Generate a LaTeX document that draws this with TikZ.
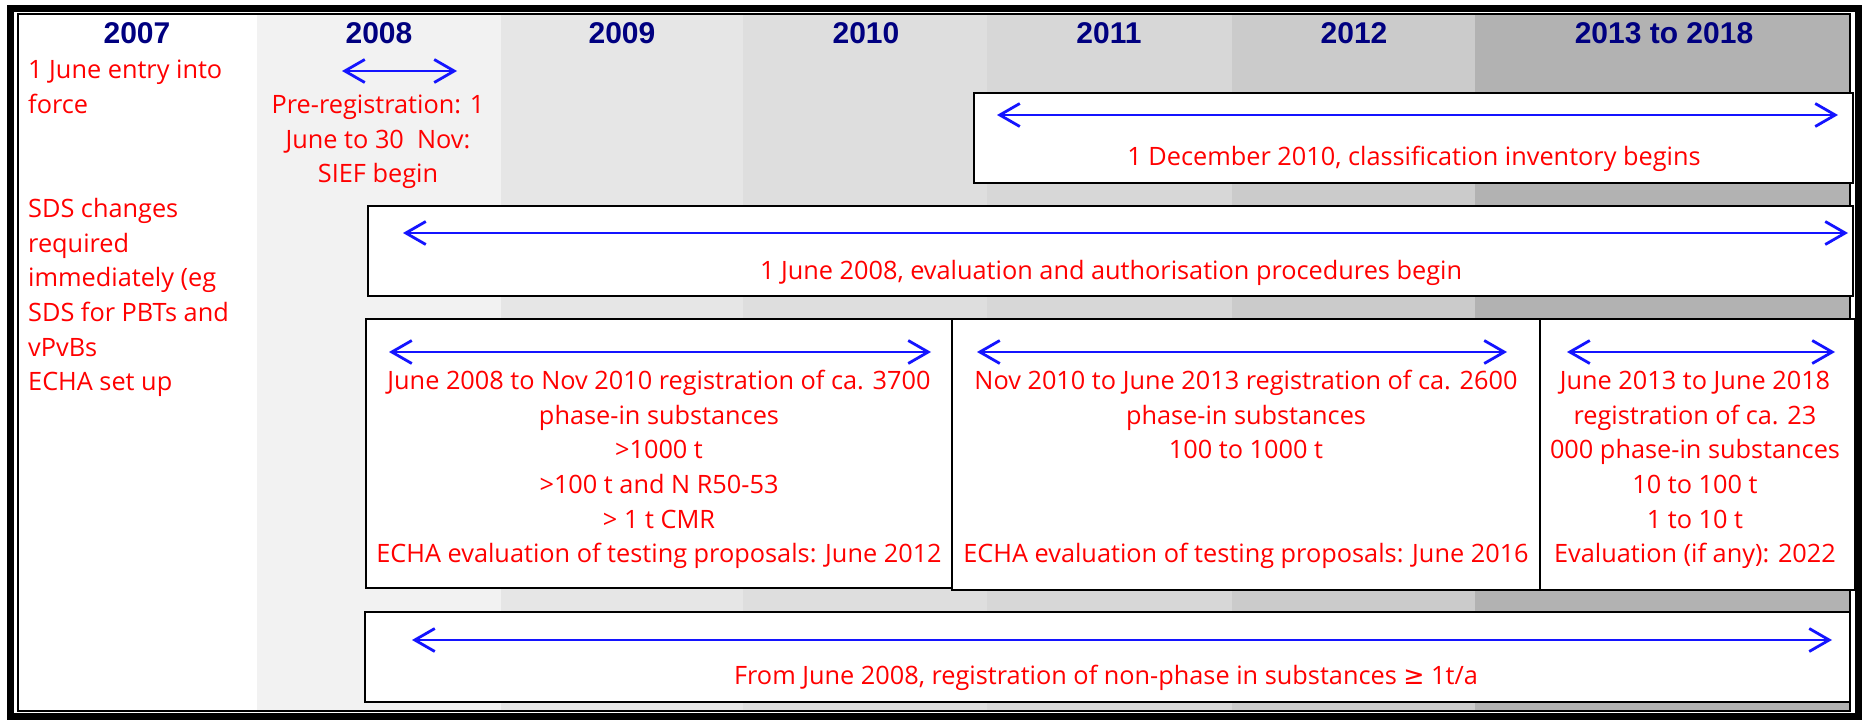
\documentclass[tikz,border=0pt]{standalone}
\usepackage{fontspec}
\setmainfont{Liberation Sans}
\newfontfamily\redfamily{Open Sans}
\newfontfamily\symfamily{DejaVu Sans}
\usetikzlibrary{arrows.meta}
\definecolor{navyhead}{RGB}{0,0,128}
\definecolor{arrowblue}{RGB}{20,20,255}
\definecolor{txtred}{RGB}{255,0,0}
\definecolor{bandA}{RGB}{255,255,255}
\definecolor{bandB}{RGB}{242,242,242}
\definecolor{bandC}{RGB}{230,230,230}
\definecolor{bandD}{RGB}{222,222,222}
\definecolor{bandE}{RGB}{215,215,215}
\definecolor{bandF}{RGB}{203,203,203}
\definecolor{bandG}{RGB}{178,178,178}
\begin{document}
\begin{tikzpicture}[x=1pt,y=-1pt,
  yearlbl/.style={font=\fontsize{30}{36}\selectfont\bfseries, text=navyhead, inner sep=0pt, anchor=center},
  redtxt/.style={font=\redfamily\fontsize{25.3}{34.7}\selectfont, text=txtred, inner sep=0pt, align=center, anchor=north},
  redleft/.style={redtxt, align=left, anchor=north west},
  eventbox/.style={draw=black, line width=2.5pt, fill=white, inner sep=0pt},
  span/.style={draw=arrowblue, line width=2.8pt, {Straight Barb[length=20pt,width=23pt]}-{Straight Barb[length=20pt,width=23pt]}},
]
\useasboundingbox (0,0) rectangle (1872,720);
\fill[white] (0,0) rectangle (1872,720);
% year bands
\fill[bandA] (18,14) rectangle (257,711);
\fill[bandB] (257,14) rectangle (501,711);
\fill[bandC] (501,14) rectangle (743,711);
\fill[bandD] (743,14) rectangle (987,711);
\fill[bandE] (987,14) rectangle (1232,711);
\fill[bandF] (1232,14) rectangle (1475,711);
\fill[bandG] (1475,14) rectangle (1850,711);
\draw[line width=1.5pt] (18,14) rectangle (1850,711);
% year labels
\node[yearlbl] (y2007) at (137,33) {2007};
\node[yearlbl] (y2008) at (379,33) {2008};
\node[yearlbl] (y2009) at (622,33) {2009};
\node[yearlbl] (y2010) at (866,33) {2010};
\node[yearlbl] (y2011) at (1109,33) {2011};
\node[yearlbl] (y2012) at (1354,33) {2012};
\node[yearlbl] (y2013) at (1664,33) {2013 to 2018};
% left column texts
\node[redleft] (entry) at (28,54) {\strut 1 June entry into\\force};
\node[redleft] (sds) at (28,193) {\strut SDS changes\\required\\immediately (eg\\SDS for PBTs and\\vPvBs\\ECHA set up};
% pre-registration
\coordinate (preL) at (342,71);
\coordinate (preR) at (457,71);
\draw[span] (preL) -- (preR);
\node[redtxt] (prereg) at (378,89) {\strut Pre-registration: 1\\June to 30\ \ Nov:\\SIEF begin};
% boxes
\node[eventbox, minimum width=879pt, minimum height=90pt] (boxA) at (1413.5,138) {};
\node[eventbox, minimum width=1485pt, minimum height=90pt] (boxB) at (1110.5,251) {};
\node[eventbox, minimum width=586pt, minimum height=269pt] (boxC1) at (659,453.5) {};
\node[eventbox, minimum width=588pt, minimum height=271pt] (boxC2) at (1246,454.5) {};
\node[eventbox, minimum width=315pt, minimum height=271pt] (boxC3) at (1697.5,454.5) {};
\node[eventbox, minimum width=1485pt, minimum height=90pt] (boxD) at (1107.5,657) {};
% spans
\coordinate (aL) at (997,115);   \coordinate (aR) at (1838,115);
\coordinate (bL) at (403,233);   \coordinate (bR) at (1848,233);
\coordinate (c1L) at (389,352);  \coordinate (c1R) at (931,352);
\coordinate (c2L) at (977,352);  \coordinate (c2R) at (1507,352);
\coordinate (c3L) at (1567,352); \coordinate (c3R) at (1835,352);
\coordinate (dL) at (412,640);   \coordinate (dR) at (1832,640);
\draw[span] (aL) -- (aR);
\draw[span] (bL) -- (bR);
\draw[span] (c1L) -- (c1R);
\draw[span] (c2L) -- (c2R);
\draw[span] (c3L) -- (c3R);
\draw[span] (dL) -- (dR);
% box texts
\node[redtxt] (tA) at (1414,141) {\strut 1 December 2010, classification inventory begins};
\node[redtxt] (tB) at (1111,255) {\strut 1 June 2008, evaluation and authorisation procedures begin};
\node[redtxt] (tC1) at (659,365) {\strut June 2008 to Nov 2010 registration of ca. 3700\\phase-in substances\\>1000 t\\>100 t and N R50-53\\> 1 t CMR\\ECHA evaluation of testing proposals: June 2012};
\node[redtxt] (tC2) at (1246,365) {\strut Nov 2010 to June 2013 registration of ca. 2600\\phase-in substances\\100 to 1000 t\\[69.4pt]ECHA evaluation of testing proposals: June 2016};
\node[redtxt] (tC3) at (1695,365) {\strut June 2013 to June 2018\\registration of ca. 23\\000 phase-in substances\\10 to 100 t\\1 to 10 t\\Evaluation (if any): 2022};
\node[redtxt] (tD) at (1106,660) {\strut From June 2008, registration of non-phase in substances {\symfamily ≥} 1t/a};
% outer frame
\draw[line width=7pt] (10.5,8.5) rectangle (1858,716);
\end{tikzpicture}
\end{document}
